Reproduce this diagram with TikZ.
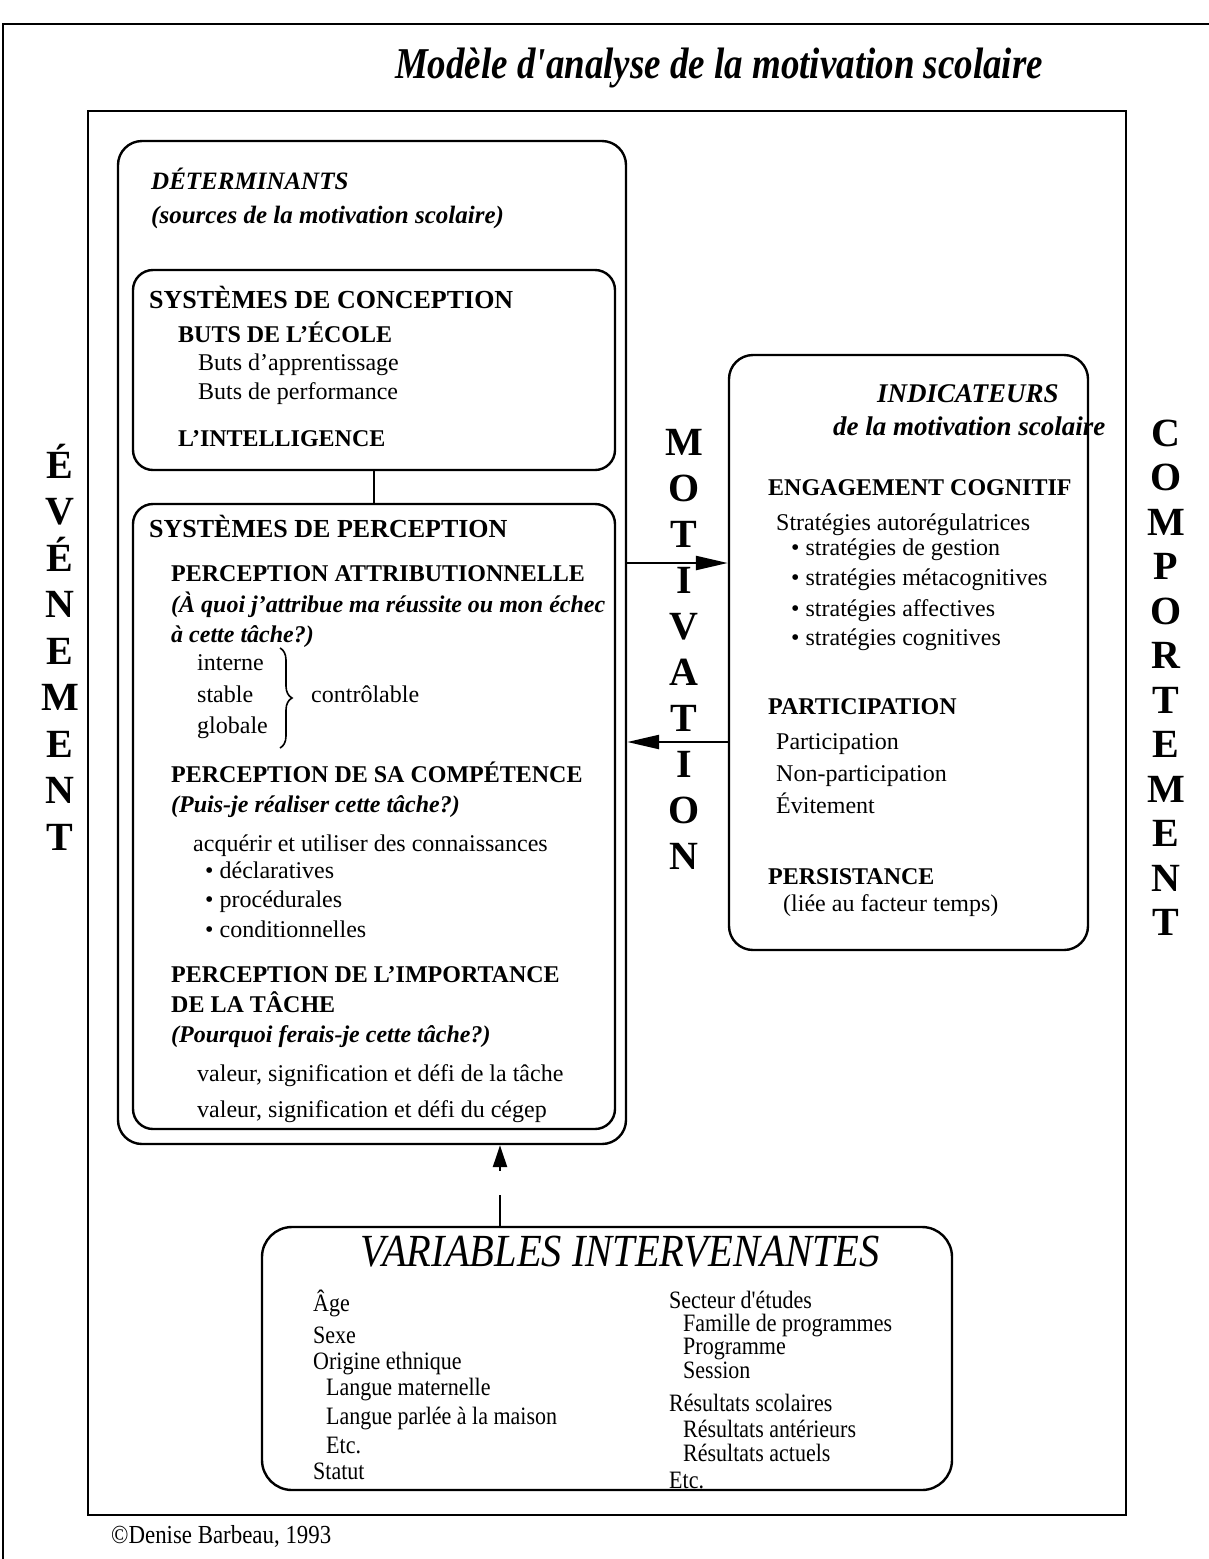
\documentclass[tikz,border=0pt]{standalone}
\usepackage{fontspec}
\setmainfont{Liberation Serif}
\newfontfamily\narrowserif[FakeStretch=0.88]{Liberation Serif}
\newfontfamily\titleserif[FakeStretch=0.84]{Liberation Serif}
\usetikzlibrary{arrows.meta,decorations.pathreplacing}

\begin{document}
\begin{tikzpicture}[x=0.5pt, y=-0.5pt, line width=1.2pt,
  box/.style = {draw, rounded corners=12pt, inner sep=0pt},
  txt/.style = {anchor=base west, inner sep=0pt, font=\fontsize{12}{14}\selectfont},
  hd/.style = {txt, font=\fontsize{12}{14}\selectfont\bfseries},
  qs/.style = {txt, font=\fontsize{12}{14}\selectfont\bfseries\itshape},
  vl/.style = {anchor=base, inner sep=0pt, font=\fontsize{20}{22}\selectfont\bfseries},
  nar/.style = {txt, font=\fontsize{12.5}{15}\selectfont\narrowserif},
  arr/.style = {-{Triangle[length=16pt,width=7pt]}}]
  \useasboundingbox (0,0) rectangle (1209,1559);
  \draw (3,1559) -- (3,24) -- (1209,24);
  \node[anchor=base, inner sep=0pt, font=\fontsize{22}{24}\selectfont\titleserif\bfseries\itshape]
    (title) at (719,78) {Modèle d'analyse de la motivation scolaire};

  % boxes
  \node[draw, inner sep=0pt, minimum width=519pt, minimum height=702pt] (frame) at (607,813) {};
  \node[box, minimum width=254pt, minimum height=501.5pt] (det) at (372,642.5) {};
  \node[box, rounded corners=10pt, minimum width=241pt, minimum height=100pt] (conc) at (374,370) {};
  \node[box, rounded corners=10pt, minimum width=241pt, minimum height=312.5pt] (perc) at (374,816.5) {};
  \node[box, minimum width=179.5pt, minimum height=297.5pt] (ind) at (908.5,652.5) {};
  \node[box, rounded corners=15pt, minimum width=345pt, minimum height=131.5pt] (var) at (607,1358.5) {};

  \draw (conc.south) -- (perc.north);
  \draw[arr] (det.east |- 0,563) -- (ind.west |- 0,563);
  \draw[arr] (ind.west |- 0,742) -- (det.east |- 0,742);
  \draw[-{Triangle[length=11pt,width=7pt]}, dash pattern=on 15.5pt off 12pt]
    (var.north -| 500,0) -- (det.south -| 500,0);

  % side words
  \foreach \l [count=\i] in {É,V,É,N,E,M,E,N,T}
    \node[vl] (ev\i) at (60,{478+46.5*(\i-1)}) {\l};
  \foreach \l [count=\i] in {M,O,T,I,V,A,T,I,O,N}
    \node[vl] (mo\i) at (684,{455+46*(\i-1)}) {\l};
  \foreach \l [count=\i] in {C,O,M,P,O,R,T,E,M,E,N,T}
    \node[vl] (co\i) at (1166,{446+44.5*(\i-1)}) {\l};

  % determinants
  \node[qs, font=\fontsize{12.5}{14}\selectfont\bfseries\itshape] (dethd) at (150,189) {DÉTERMINANTS};
  \node[qs, font=\fontsize{12.5}{14}\selectfont\bfseries\itshape] (detsub) at (150,223) {(sources de la motivation scolaire)};
  \node[hd, font=\fontsize{13}{15}\selectfont\bfseries] (conchd) at (148,308) {SYSTÈMES DE CONCEPTION};
  \node[hd] (buts) at (177,342) {BUTS DE L'ÉCOLE};
  \node[txt] (buts1) at (197,370) {Buts d'apprentissage};
  \node[txt] (buts2) at (197,399) {Buts de performance};
  \node[hd] (intel) at (177,446) {L'INTELLIGENCE};

  \node[hd, font=\fontsize{13}{15}\selectfont\bfseries] (perchd) at (148,537) {SYSTÈMES DE PERCEPTION};
  \node[hd] (attr) at (170,581) {PERCEPTION ATTRIBUTIONNELLE};
  \node[qs] (attrq1) at (170,612) {(À quoi j'attribue ma réussite ou mon échec};
  \node[qs] (attrq2) at (170,642) {à cette tâche?)};
  \foreach \y/\t [count=\i] in {670/interne, 702/stable, 733/globale}
    \node[txt] (attr\i) at (196,\y) {\t};
  \draw[line width=0.8pt, decorate, decoration={brace, amplitude=6pt}] (280,648) -- (280,748);
  \node[txt] (ctrl) at (310,702) {contrôlable};
  \node[hd] (comp) at (170,782) {PERCEPTION DE SA COMPÉTENCE};
  \node[qs] (compq) at (170,812) {(Puis-je réaliser cette tâche?)};
  \node[txt] (conn) at (192,851) {acquérir et utiliser des connaissances};
  \foreach \y/\t [count=\i] in {878/déclaratives, 907/procédurales, 937/conditionnelles}
    \node[txt] (conn\i) at (204,\y) {• \t};
  \node[hd] (imp1) at (170,982) {PERCEPTION DE L'IMPORTANCE};
  \node[hd] (imp2) at (170,1012) {DE LA TÂCHE};
  \node[qs] (impq) at (170,1042) {(Pourquoi ferais-je cette tâche?)};
  \node[txt] (val1) at (196,1081) {valeur, signification et défi de la tâche};
  \node[txt] (val2) at (196,1117) {valeur, signification et défi du cégep};

  % indicateurs
  \node[qs, font=\fontsize{13.5}{15}\selectfont\bfseries\itshape] (indhd) at (876,402) {INDICATEURS};
  \node[qs, font=\fontsize{13.5}{15}\selectfont\bfseries\itshape] (indsub) at (832,435) {de la motivation scolaire};
  \node[hd] (eng) at (767,495) {ENGAGEMENT COGNITIF};
  \node[txt] (strat) at (775,530) {Stratégies autorégulatrices};
  \foreach \y/\t [count=\i] in {555/de gestion, 585/métacognitives, 616/affectives, 645/cognitives}
    \node[txt] (strat\i) at (790,\y) {• stratégies \t};
  \node[hd] (part) at (767,714) {PARTICIPATION};
  \foreach \y/\t [count=\i] in {749/Participation, 781/Non-participation, 813/Évitement}
    \node[txt] (part\i) at (775,\y) {\t};
  \node[hd] (pers) at (767,884) {PERSISTANCE};
  \node[txt] (pers1) at (782,911) {(liée au facteur temps)};

  % variables intervenantes
  \node[anchor=base, inner sep=0pt, font=\fontsize{23}{25}\selectfont\narrowserif\itshape]
    (varhd) at (620,1266) {VARIABLES INTERVENANTES};
  \foreach \x/\y/\t [count=\i] in {312/1311/Âge, 312/1343/Sexe, 312/1369/Origine ethnique,
      325/1395/Langue maternelle, 325/1424/Langue parlée à la maison, 325/1453/Etc.,
      312/1479/Statut}
    \node[nar] (vl\i) at (\x,\y) {\t};
  \foreach \x/\y/\t [count=\i] in {668/1308/Secteur d'études, 682/1331/Famille de programmes,
      682/1354/Programme, 682/1378/Session, 668/1411/Résultats scolaires,
      682/1437/Résultats antérieurs, 682/1461/Résultats actuels, 668/1488/Etc.}
    \node[nar] (vr\i) at (\x,\y) {\t};

  \node[nar, font=\fontsize{13}{15}\selectfont\narrowserif] (copy) at (110,1543) {©Denise Barbeau, 1993};
\end{tikzpicture}
\end{document}
